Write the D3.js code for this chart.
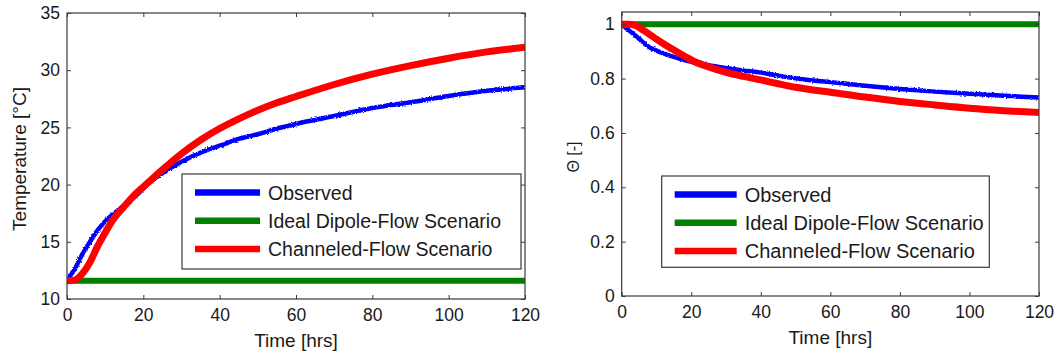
<!DOCTYPE html>
<html lang="en">
<head>
<meta charset="utf-8">
<title>Temperature and Theta</title>
<script src="https://cdn.jsdelivr.net/npm/d3@7"></script>
<style>
  body { margin: 0; background: #fff; }
  svg { display: block; font-family: "Liberation Sans", Arial, sans-serif; }
  .tick text { fill: #1a1a1a; }
</style>
</head>
<body>
<script>
// ---- data ----
var hours = [0, 2, 4, 6, 8, 10, 12, 15, 18, 21, 25, 30, 35, 40, 45, 50, 55, 60, 70, 80, 90, 100, 110, 120];

// left panel, temperature [°C]
var observedTemp  = [11.7, 12.6, 13.9, 15.0, 16.0, 16.8, 17.4, 18.2, 19.0, 20.0, 21.0, 22.0, 22.8, 23.4, 24.0, 24.4, 24.9, 25.3, 26.0, 26.7, 27.2, 27.75, 28.2, 28.5];
var channeledTemp = [11.6, 11.65, 12.2, 13.2, 14.6, 15.8, 16.9, 18.1, 19.2, 20.1, 21.3, 22.7, 23.9, 24.9, 25.75, 26.5, 27.15, 27.7, 28.75, 29.65, 30.4, 31.05, 31.6, 32.0];
var idealHours = [0, 120];
var idealTemp  = [11.6, 11.6];

// right panel, theta [-]
var observedTheta  = [1.0, 0.978, 0.958, 0.935, 0.915, 0.903, 0.893, 0.880, 0.868, 0.859, 0.849, 0.839, 0.830, 0.822, 0.811, 0.801, 0.793, 0.787, 0.774, 0.762, 0.752, 0.744, 0.737, 0.730];
var channeledTheta = [1.0, 1.0, 0.995, 0.980, 0.963, 0.945, 0.928, 0.905, 0.883, 0.862, 0.843, 0.823, 0.808, 0.795, 0.781, 0.768, 0.758, 0.750, 0.732, 0.716, 0.703, 0.691, 0.682, 0.675];
var idealTheta = [1, 1];

var xTicks = [0, 20, 40, 60, 80, 100, 120];
var tempTicks = [10, 15, 20, 25, 30, 35];
var thetaTicks = [0, 0.2, 0.4, 0.6, 0.8, 1];
var thetaTickLabels = ["0", "0.2", "0.4", "0.6", "0.8", "1"];
var legendLabels = ["Observed", "Ideal Dipole-Flow Scenario", "Channeled-Flow Scenario"];
var seriesColors = ["#0000ff", "#007f00", "#ff0000"];

var w = 1058, h = 356;
var svg = d3.select("body").append("svg").attr("width", w).attr("height", h);

// slight roughness for the noisy observed record
var defs = svg.append("defs");
var f = defs.append("filter").attr("id", "rough")
    .attr("x", "-5%").attr("y", "-5%").attr("width", "110%").attr("height", "110%");
f.append("feTurbulence").attr("type", "fractalNoise").attr("baseFrequency", 0.8)
    .attr("numOctaves", 1).attr("seed", 3).attr("result", "noise");
f.append("feDisplacementMap").attr("in", "SourceGraphic").attr("in2", "noise")
    .attr("scale", 3).attr("xChannelSelector", "R").attr("yChannelSelector", "G");

function drawPanel(cfg) {
    var g = svg.append("g");
    var x = d3.scaleLinear().domain([0, 120]).range([cfg.left, cfg.right]);
    var y = d3.scaleLinear().domain(cfg.yDomain).range([cfg.bottom, cfg.top]);

    defs.append("clipPath").attr("id", cfg.id)
        .append("rect")
        .attr("x", cfg.left).attr("y", cfg.top)
        .attr("width", cfg.right - cfg.left).attr("height", cfg.bottom - cfg.top);

    var line = d3.line().x(function(d) { return x(d[0]); }).y(function(d) { return y(d[1]); })
        .curve(d3.curveMonotoneX);

    var lines = g.append("g").attr("clip-path", "url(#" + cfg.id + ")");
    var series = [
        { t: hours, v: cfg.observed, width: 4.5, rough: true },
        { t: idealHours, v: cfg.ideal, width: 6 },
        { t: hours, v: cfg.channeled, width: 7 }
    ];
    series.forEach(function(s, i) {
        lines.append("path")
            .datum(d3.zip(s.t, s.v))
            .attr("d", line)
            .attr("fill", "none")
            .attr("stroke", seriesColors[i])
            .attr("stroke-width", s.width)
            .attr("filter", s.rough ? "url(#rough)" : null);
    });

    // box
    g.append("rect")
        .attr("x", cfg.left).attr("y", cfg.top)
        .attr("width", cfg.right - cfg.left).attr("height", cfg.bottom - cfg.top)
        .attr("fill", "none").attr("stroke", "#3a3a3a").attr("stroke-width", 1.2);

    // axes, ticks pointing inward on all four sides
    function style(sel, labels) {
        sel.select(".domain").remove();
        sel.selectAll(".tick line").attr("stroke", "#3a3a3a");
        sel.selectAll(".tick text").style("font-size", "17.5px");
        if (!labels) sel.selectAll(".tick text").remove();
    }
    g.append("g").attr("transform", "translate(0," + cfg.bottom + ")")
        .call(d3.axisBottom(x).tickValues(xTicks).tickSize(-4).tickPadding(10).tickFormat(d3.format("d")))
        .call(style, true)
        .selectAll(".tick text").attr("dy", "0.71em").attr("y", 10);
    g.append("g").attr("transform", "translate(0," + cfg.top + ")")
        .call(d3.axisTop(x).tickValues(xTicks).tickSize(-4))
        .call(style, false);
    g.append("g").attr("transform", "translate(" + cfg.left + ",0)")
        .call(d3.axisLeft(y).tickValues(cfg.yTicks).tickSize(-4).tickPadding(7)
            .tickFormat(function(d, i) { return cfg.yTickLabels[i]; }))
        .call(style, true);
    g.append("g").attr("transform", "translate(" + cfg.right + ",0)")
        .call(d3.axisRight(y).tickValues(cfg.yTicks).tickSize(-4))
        .call(style, false);

    // axis labels
    g.append("text")
        .attr("x", (cfg.left + cfg.right) / 2).attr("y", cfg.bottom + 48)
        .attr("text-anchor", "middle").style("font-size", "19px").attr("fill", "#1a1a1a")
        .text("Time [hrs]");
    g.append("text")
        .attr("transform", "translate(" + cfg.yLabelX + "," + ((cfg.top + cfg.bottom) / 2 + 3) + ") rotate(-90)")
        .attr("text-anchor", "middle").style("font-size", cfg.yLabelSize + "px").attr("fill", "#1a1a1a")
        .text(cfg.yLabel);

    // legend
    var lg = g.append("g");
    lg.append("rect")
        .attr("x", cfg.legend.x).attr("y", cfg.legend.y)
        .attr("width", cfg.legend.w).attr("height", cfg.legend.h)
        .attr("fill", "#fff").attr("stroke", "#3a3a3a").attr("stroke-width", 1.2);
    legendLabels.forEach(function(lab, i) {
        var cy = cfg.legend.y + 18.5 + i * 28.3;
        lg.append("line")
            .attr("x1", cfg.legend.x + 13).attr("x2", cfg.legend.x + 13 + cfg.legend.sample)
            .attr("y1", cy).attr("y2", cy)
            .attr("stroke", seriesColors[i]).attr("stroke-width", 6.5);
        lg.append("text")
            .attr("x", cfg.legend.x + 21 + cfg.legend.sample).attr("y", cy + 7)
            .style("font-size", cfg.legend.font + "px").attr("fill", "#1a1a1a")
            .text(lab);
    });
}

drawPanel({
    id: "clipTemp",
    left: 67, right: 525, top: 13, bottom: 299,
    yDomain: [10, 35], yTicks: tempTicks, yTickLabels: tempTicks.map(String),
    observed: observedTemp, channeled: channeledTemp, ideal: idealTemp,
    yLabel: "Temperature [°C]", yLabelX: 26, yLabelSize: 19,
    legend: { x: 182, y: 174, w: 339, h: 95, sample: 65, font: 19.5 }
});

drawPanel({
    id: "clipTheta",
    left: 621.7, right: 1039, top: 12, bottom: 296,
    yDomain: [0, 1.045], yTicks: thetaTicks, yTickLabels: thetaTickLabels,
    observed: observedTheta, channeled: channeledTheta, ideal: idealTheta,
    yLabel: "Θ [-]", yLabelX: 579, yLabelSize: 16,
    legend: { x: 661.7, y: 176, w: 327.6, h: 91.3, sample: 62, font: 20 }
});
</script>
</body>
</html>
